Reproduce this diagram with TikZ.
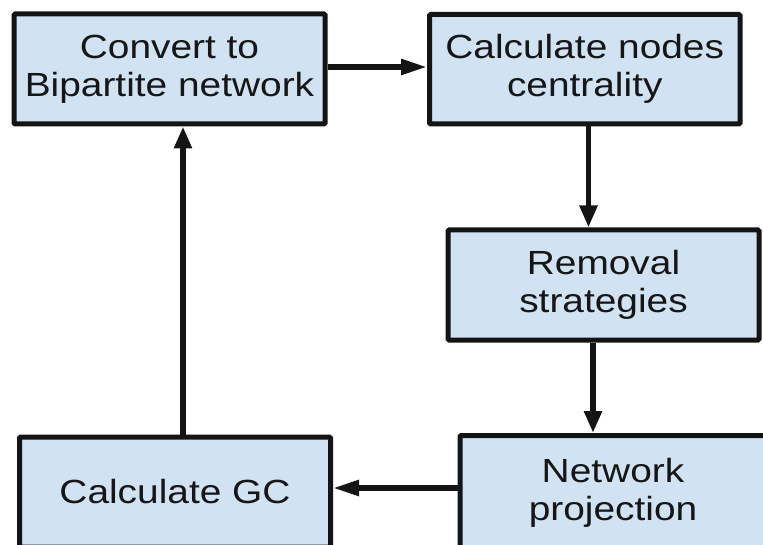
\documentclass[tikz,border=0pt]{standalone}
\usepackage{fontspec}
\setmainfont[FakeStretch=1.16]{Liberation Sans}
\usetikzlibrary{arrows.meta}
\definecolor{boxfill}{RGB}{209,226,242}
\definecolor{boxline}{RGB}{20,20,20}
\definecolor{textcol}{RGB}{22,22,22}
\tikzset{
  stepbox/.style={draw=boxline, fill=boxfill, line width=5pt,
    rounded corners=1.2pt, inner sep=0pt, align=center,
    text=textcol, font=\fontsize{33.5}{38}\selectfont},
  varr/.style={draw=boxline, line width=5.5pt,
    -{Triangle[length=22pt,width=17pt]}},
  harr/.style={draw=boxline, line width=5.5pt,
    -{Triangle[length=26pt,width=15pt]}}
}
\begin{document}
\begin{tikzpicture}[x=1pt,y=-1pt]
  \useasboundingbox (0,0) rectangle (763,545);
  \clip (0,0) rectangle (763,545);

  % process boxes
  \node[stepbox, minimum width=311pt, minimum height=110pt] (conv) at (169.5,69)
    {Convert to\\Bipartite network};
  \node[stepbox, minimum width=310.5pt, minimum height=109.5pt] (cent) at (584.75,69.25)
    {Calculate nodes\\centrality};
  \node[stepbox, minimum width=311pt, minimum height=110pt] (remo) at (603.5,285)
    {Removal\\strategies};
  \node[stepbox, minimum width=306pt, minimum height=114pt] (proj) at (613,492.5)
    {Network\\projection};
  \node[stepbox, minimum width=311pt, minimum height=110pt] (gc) at (175,492)
    {Calculate GC};

  % flow connectors
  \draw[harr] ([yshift=2pt]conv.east) -- ([yshift=2pt]conv.east -| cent.west);
  \draw[varr] ([xshift=3.75pt]cent.south) -- ([xshift=3.75pt]cent.south |- remo.north);
  \draw[varr] ([xshift=-10.5pt]remo.south) -- ([xshift=-10.5pt]remo.south |- proj.north);
  \draw[harr] ([yshift=4.5pt]proj.west) -- ([yshift=4.5pt]proj.west -| gc.east);
  \draw[varr] ([xshift=8pt]gc.north) -- ([xshift=8pt]gc.north |- conv.south);
\end{tikzpicture}
\end{document}
